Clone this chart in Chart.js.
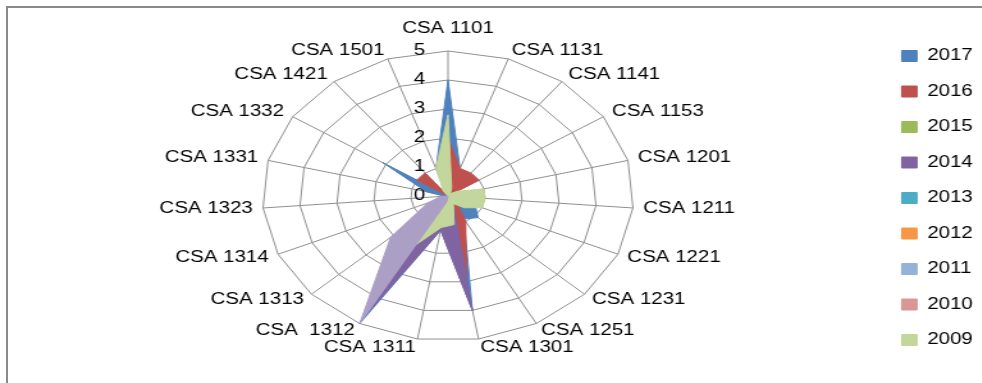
<!DOCTYPE html>
<html>
<head>
<meta charset="utf-8">
<script src="https://cdn.jsdelivr.net/npm/chart.js@4/dist/chart.umd.min.js"></script>
<style>
html,body{margin:0;padding:0;width:982px;height:383px;overflow:hidden;background:#fff;}
#frame{position:absolute;left:6px;top:6px;width:1000px;height:400px;border-left:2px solid #8a8a8a;border-top:2px solid #8a8a8a;}
#wrap{position:absolute;left:0;top:0;width:770px;height:383px;transform:scaleX(1.28);transform-origin:0 0;}
</style>
</head>
<body>
<div id="frame"></div>
<div id="wrap"><canvas id="c" width="770" height="383"></canvas></div>
<script>
const categories = ['CSA 1101','CSA 1131','CSA 1141','CSA 1153','CSA 1201','CSA 1211','CSA 1221','CSA 1231','CSA 1251','CSA 1301','CSA 1311','CSA  1312','CSA 1313','CSA 1314','CSA 1323','CSA 1331','CSA 1332','CSA 1421','CSA 1501'];
const tickLabels = ['0','1','2','3','4','5'];

const v2017 = [4.0, 1.0, 0.2, 0.1, 0.2, 0.5, 0.8, 1.1, 0.9, 4.0, 1.2, 5.0, 1.5, 0.4, 0.1, 0.6, 2.1, 0.0, 1.0];
const v2016 = [2.0, 1.0, 1.0, 1.0, 0.0, 0.0, 0.0, 0.3, 1.0, 3.0, 0.3, 0.0, 0.0, 0.0, 0.0, 0.0, 1.0, 1.0, 0.0];
const v2015 = [0, 0, 0, 0, 0, 0, 0, 0, 0, 0, 0, 0, 0, 0, 0, 0, 0, 0, 0];
const v2014 = [0.0, 0.0, 0.0, 0.0, 0.0, 0.0, 0.0, 0.0, 0.3, 4.0, 1.2, 4.7, 0.8, 0.0, 0.0, 0.0, 0.0, 0.0, 0.0];
const v2013 = [0, 0, 0, 0, 0, 0, 0, 0, 0, 0, 0, 0, 0, 0, 0, 0, 0, 0, 0];
const v2012 = [0, 0, 0, 0, 0, 0, 0, 0, 0, 0, 0, 0, 0, 0, 0, 0, 0, 0, 0];
const v2011 = [0, 0, 0, 0, 0, 0, 0, 0, 0, 0, 0, 0, 0, 0, 0, 0, 0, 0, 0];
const v2010 = [0, 0, 0, 0, 0, 0, 0, 0, 0, 0, 0, 0, 0, 0, 0, 0, 0, 0, 0];
const v2009 = [2.8, 0.3, 0.1, 0.3, 1.0, 1.0, 1.0, 0.6, 0.3, 1.0, 1.1, 2.0, 0.6, 0.2, 0.0, 0.0, 0.0, 0.2, 1.0];
const v2008 = [0.0, 0.0, 0.0, 0.0, 0.0, 0.0, 0.0, 0.0, 0.0, 0.0, 0.2, 5.0, 2.1, 0.6, 0.2, 0.0, 0.0, 0.0, 0.0];

const seriesNames = ['2008','2009','2010','2011','2012','2013','2014','2015','2016','2017'];
const seriesValues = [v2008, v2009, v2010, v2011, v2012, v2013, v2014, v2015, v2016, v2017];
const seriesColors = ['#AC9FC6','#C3D69B','#D99694','#95B3D7','#F79646','#4BACC6','#8064A2','#9BBB59','#C0504D','#4F81BD'];
const legendHidden = ['2008'];

const FONT = '"Liberation Sans", Arial, sans-serif';
const PAD = '          ';

const zeroLabel = {
  id: 'zeroLabel',
  beforeDatasetsDraw(chart) {
    const s = chart.scales.r;
    const p = s.getPointPositionForValue(0, 0);
    const ctx = chart.ctx;
    ctx.save();
    ctx.font = '16px ' + FONT;
    ctx.fillStyle = '#000';
    ctx.textAlign = 'center';
    ctx.textBaseline = 'middle';
    ctx.fillText(tickLabels[0] + PAD, p.x, p.y);
    ctx.restore();
  }
};

new Chart(document.getElementById('c'), {
  type: 'radar',
  data: {
    labels: categories,
    datasets: seriesNames.map((n, i) => ({
      label: n,
      data: seriesValues[i],
      backgroundColor: seriesColors[i],
      borderColor: seriesColors[i],
      borderWidth: 1,
      fill: 'origin',
      pointRadius: 0,
      pointHoverRadius: 0,
      tension: 0
    }))
  },
  options: {
    responsive: false,
    devicePixelRatio: 1,
    animation: false,
    layout: { padding: { left: 16, top: 0, bottom: 0, right: 0 } },
    plugins: {
      tooltip: { enabled: false },
      title: { display: true, text: ' ', position: 'top', fullSize: false, font: { size: 1, lineHeight: 1 }, padding: { top: 5.8, bottom: 0 } },
      subtitle: { display: true, text: ' ', position: 'bottom', fullSize: false, font: { size: 1, lineHeight: 1 }, padding: { top: 20.8, bottom: 0 } },
      legend: {
        position: 'right',
        reverse: true,
        title: { display: true, text: ' ', font: { size: 1, lineHeight: 1 }, padding: { top: 12, bottom: 0 } },
        labels: {
          boxWidth: 12,
          boxHeight: 11,
          padding: 19.5,
          color: '#000',
          font: { size: 16, family: FONT },
          filter: item => !legendHidden.includes(item.text)
        }
      }
    },
    scales: {
      r: {
        min: 0,
        max: 5,
        ticks: {
          stepSize: 1,
          backdropPadding: 0,
          showLabelBackdrop: false,
          color: '#000',
          font: { size: 16, family: FONT },
          callback: v => tickLabels[v] + PAD
        },
        grid: { color: '#8f8f8f', lineWidth: 1 },
        angleLines: { color: '#8f8f8f', lineWidth: 1 },
        pointLabels: {
          padding: c => (c.index === 0 ? 5 : 0),
          color: '#000',
          font: c => ({ size: 16, family: FONT, lineHeight: c.index === 0 ? 1.2 : 0.05 })
        }
      }
    }
  },
  plugins: [zeroLabel]
});
</script>
</body>
</html>
